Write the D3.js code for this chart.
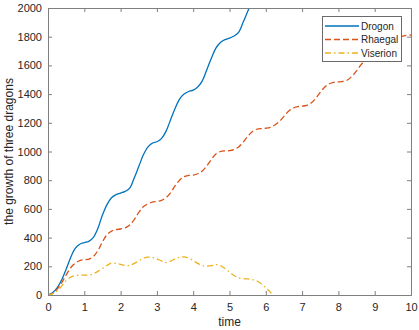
<!DOCTYPE html>
<html><head><meta charset="utf-8">
<script src="https://cdn.jsdelivr.net/npm/d3@7"></script>
<style>body{margin:0;background:#fff;}svg{display:block;font-family:"Liberation Sans",Arial,sans-serif;}</style>
</head><body><svg id="c" width="419" height="330"></svg>
<script>
const time = [0,0.125,0.25,0.375,0.5,0.625,0.75,0.875,1,1.125,1.25,1.375,1.5,1.625,1.75,1.875,2,2.125,2.25,2.375,2.5,2.625,2.75,2.875,3,3.125,3.25,3.375,3.5,3.625,3.75,3.875,4,4.125,4.25,4.375,4.5,4.625,4.75,4.875,5,5.125,5.25,5.375,5.5,5.625,5.75,5.875,6,6.125,6.25,6.375,6.5,6.625,6.75,6.875,7,7.125,7.25,7.375,7.5,7.625,7.75,7.875,8,8.125,8.25,8.375,8.5,8.625,8.75,8.875,9,9.125,9.25,9.375,9.5,9.625,9.75,9.875,10];
const drogon = [0,15,50,105,180,262,325,354,365,374,402,465,557,630,678,700,710,722,745,815,895,975,1030,1058,1068,1090,1140,1220,1300,1365,1400,1418,1428,1450,1492,1570,1650,1720,1760,1780,1790,1805,1830,1900,1975,2050];
const rhaegal = [0,10,40,85,140,190,222,240,246,250,268,310,370,420,445,456,460,468,488,525,575,615,635,647,652,660,678,712,760,800,825,833,836,845,864,900,945,982,1000,1005,1006,1014,1032,1065,1105,1138,1155,1160,1162,1168,1185,1210,1245,1280,1302,1312,1316,1322,1338,1370,1412,1450,1472,1482,1485,1489,1498,1525,1562,1605,1638,1652,1656,1660,1672,1700,1740,1780,1802,1810,1812];
const viserion = [0,8,28,62,100,125,135,138,138,140,148,165,185,206,222,220,214,206,206,220,238,255,264,261,252,238,226,236,252,262,266,256,240,220,206,202,204,212,205,185,160,136,120,114,112,108,98,78,50,20,-15];
const seriesNames = ["Drogon","Rhaegal","Viserion"];
const xTicks = [0,1,2,3,4,5,6,7,8,9,10];
const yTicks = [0,200,400,600,800,1000,1200,1400,1600,1800,2000];

const svg = d3.select("#c");
const L=48,R=411,T=8,B=295;
const x = d3.scaleLinear().domain([0,10]).range([L,R]);
const y = d3.scaleLinear().domain([0,2000]).range([B,T]);
const axisCol="#7f7f7f", textCol="#262626";

svg.append("defs").append("clipPath").attr("id","clip").append("rect")
  .attr("x",L).attr("y",T).attr("width",R-L).attr("height",B-T);

const series = [
  {name:seriesNames[0], vals:drogon, color:"#0072BD", dash:null},
  {name:seriesNames[1], vals:rhaegal, color:"#D95319", dash:"6,3"},
  {name:seriesNames[2], vals:viserion, color:"#EDB120", dash:"6,3,1.5,3"}
];
const line = d3.line().x(d=>x(d[0])).y(d=>y(d[1])).curve(d3.curveCatmullRom.alpha(0.5));
const g = svg.append("g").attr("clip-path","url(#clip)");
series.forEach(s=>{
  g.append("path").datum(s.vals.map((v,i)=>[time[i],v]))
   .attr("d",line).attr("fill","none").attr("stroke",s.color)
   .attr("stroke-width",1.3).attr("stroke-dasharray",s.dash);
});

// axes
const tickLen=4;
const ax = svg.append("g").attr("transform",`translate(0,${B})`)
  .call(d3.axisBottom(x).tickValues(xTicks).tickSize(-tickLen).tickPadding(8).tickFormat(d3.format("d")));
const axT = svg.append("g").attr("transform",`translate(0,${T})`)
  .call(d3.axisTop(x).tickValues(xTicks).tickSize(-tickLen).tickFormat(""));
const ay = svg.append("g").attr("transform",`translate(${L},0)`)
  .call(d3.axisLeft(y).tickValues(yTicks).tickSize(-tickLen).tickPadding(6).tickFormat(d3.format("d")));
const ayR = svg.append("g").attr("transform",`translate(${R},0)`)
  .call(d3.axisRight(y).tickValues(yTicks).tickSize(-tickLen).tickFormat(""));
[ax,axT,ay,ayR].forEach(a=>{
  a.select(".domain").attr("stroke",axisCol).attr("stroke-width",1);
  a.selectAll(".tick line").attr("stroke",axisCol);
  a.selectAll("text").attr("fill",textCol).style("font-size","11px").style("font-family","'Liberation Sans',Arial,sans-serif");
});

// titles
svg.append("text").attr("x",(L+R)/2).attr("y",326).attr("text-anchor","middle")
  .attr("fill",textCol).style("font-size","12px").text("time");
svg.append("text").attr("transform",`translate(13,${(T+B)/2}) rotate(-90)`).attr("text-anchor","middle")
  .attr("fill",textCol).style("font-size","12px").text("the growth of three dragons");

// legend
const lg = svg.append("g");
lg.append("rect").attr("x",322.5).attr("y",16.5).attr("width",79).attr("height",45)
  .attr("fill","#fff").attr("stroke","#6a6a6a").attr("stroke-width",1);
series.forEach((s,i)=>{
  const yy = 26 + i*13.5;
  lg.append("line").attr("x1",325).attr("x2",359).attr("y1",yy).attr("y2",yy)
    .attr("stroke",s.color).attr("stroke-width",1.3).attr("stroke-dasharray",s.dash);
  lg.append("text").attr("x",361).attr("y",yy+3.5).attr("fill",textCol)
    .style("font-size","10px").text(s.name);
});
</script></body></html>
